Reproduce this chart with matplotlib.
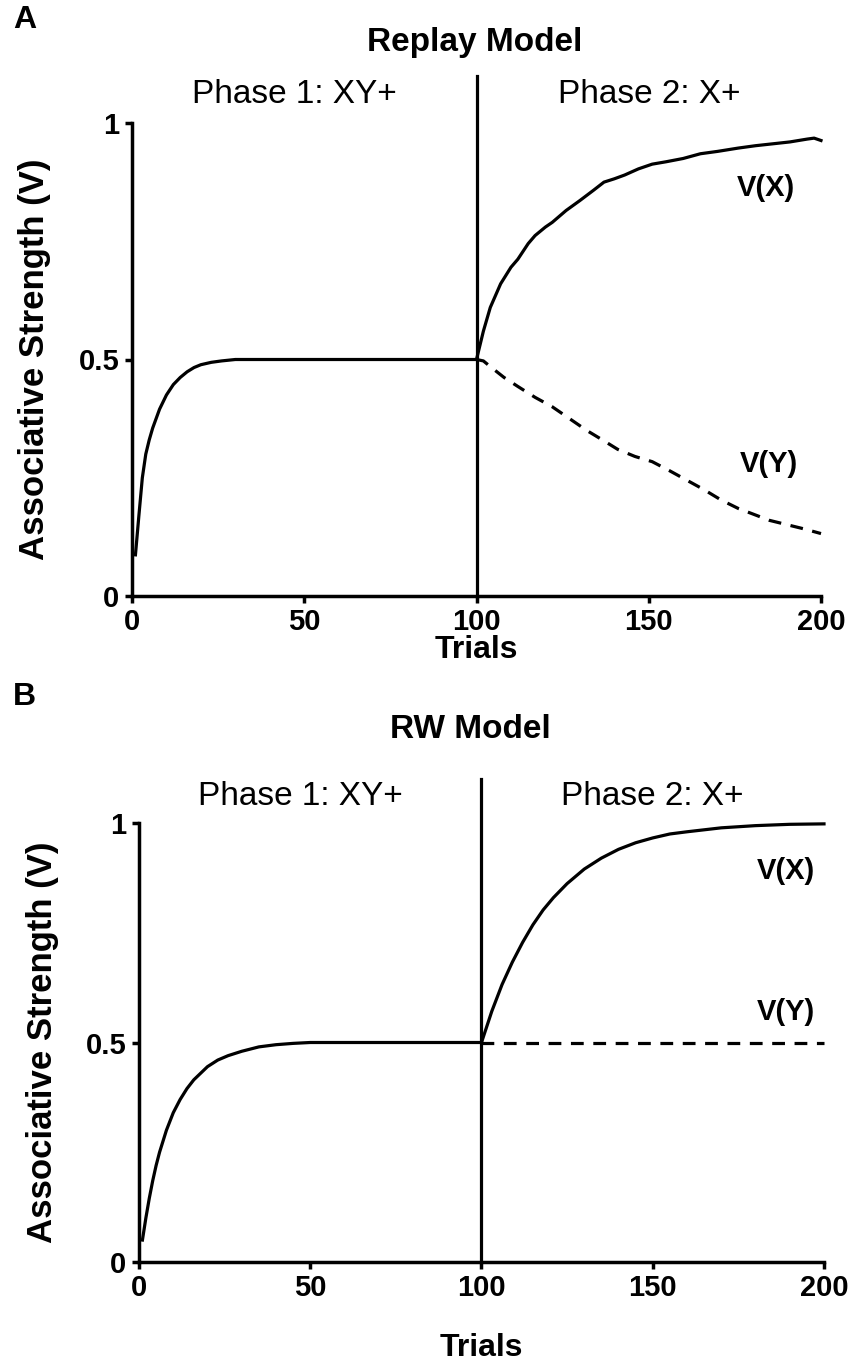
import matplotlib
matplotlib.use("Agg")
import matplotlib.pyplot as plt

plt.rcParams['font.family'] = ['Liberation Sans', 'DejaVu Sans']

# ---------------- data ----------------
phase_boundary = 100
xticks = [0, 50, 100, 150, 200]
yticks = [0, 0.5, 1]
ytick_labels = ["0", "0.5", "1"]

# Panel A: Replay model
rp_p1_trials = [1, 2, 3, 4, 5, 6, 8, 10, 12, 14, 16, 18, 20, 23, 26, 30, 40, 50, 60, 70, 80, 90, 100]
rp_p1_v = [0.087, 0.17, 0.25, 0.30, 0.33, 0.355, 0.395, 0.425, 0.447, 0.462, 0.474, 0.483, 0.489,
           0.494, 0.497, 0.5, 0.5, 0.5, 0.5, 0.5, 0.5, 0.5, 0.5]
rp_x_trials = [100, 102, 104, 107, 110, 112, 115, 117, 120, 122, 126, 130, 134, 137, 140, 143, 147,
               151, 155, 160, 165, 170, 176, 181, 186, 191, 196, 198, 200]
rp_vx = [0.5, 0.56, 0.61, 0.66, 0.695, 0.712, 0.745, 0.762, 0.78, 0.79, 0.815, 0.836, 0.858, 0.875,
         0.882, 0.89, 0.903, 0.913, 0.918, 0.925, 0.935, 0.94, 0.947, 0.952, 0.956, 0.96, 0.966,
         0.968, 0.963]
rp_y_trials = [100, 102, 104, 108, 112, 117, 122, 127, 132, 137, 141, 146, 151, 156, 161, 166, 171,
               176, 180, 185, 190, 195, 200]
rp_vy = [0.5, 0.497, 0.485, 0.462, 0.443, 0.42, 0.40, 0.375, 0.35, 0.328, 0.31, 0.295, 0.284,
         0.265, 0.245, 0.225, 0.203, 0.185, 0.174, 0.16, 0.151, 0.142, 0.132]

# Panel B: RW model
rw_p1_trials = [1, 2, 3, 4, 5, 6, 8, 10, 12, 14, 16, 18, 20, 23, 26, 30, 35, 40, 45, 50, 100]
rw_p1_v = [0.05, 0.10, 0.145, 0.185, 0.22, 0.25, 0.30, 0.34, 0.37, 0.395, 0.415, 0.43, 0.445,
           0.46, 0.47, 0.48, 0.49, 0.495, 0.498, 0.5, 0.5]
rw_x_trials = [100, 103, 106, 109, 112, 115, 118, 121, 125, 130, 135, 140, 145, 150, 155, 160, 170,
               180, 190, 200]
rw_vx = [0.5, 0.571, 0.632, 0.683, 0.728, 0.768, 0.802, 0.83, 0.862, 0.895, 0.92, 0.94, 0.955,
         0.966, 0.975, 0.98, 0.989, 0.994, 0.997, 0.998]
rw_y_trials = [100, 200]
rw_vy = [0.5, 0.5]

panels = [
    dict(letter="A", title="Replay Model",
         p1=(rp_p1_trials, rp_p1_v), vx=(rp_x_trials, rp_vx), vy=(rp_y_trials, rp_vy),
         lab_x=(184, 0.862), lab_y=(185, 0.28), xlab_px=650),
    dict(letter="B", title="RW Model",
         p1=(rw_p1_trials, rw_p1_v), vx=(rw_x_trials, rw_vx), vy=(rw_y_trials, rw_vy),
         lab_x=(189, 0.89), lab_y=(189, 0.57), xlab_px=1348),
]

# ---------------- layout ----------------
W, H = 848, 1371
fig = plt.figure(figsize=(W / 100, H / 100), dpi=100)

# axes rectangles in pixels: left, right, y(value 0), y(value 1)
rects = [(132, 821, 596, 123), (139, 824, 1262, 823)]
YTOP = 1.1
LW = 2.3

for p, (l, r, y0, y1) in zip(panels, rects):
    ppu = y0 - y1
    top_px = y0 - YTOP * ppu
    ax = fig.add_axes([l / W, 1 - y0 / H, (r - l) / W, (y0 - top_px) / H])
    ax.set_xlim(0, 200)
    ax.set_ylim(0, YTOP)
    for s in ("top", "right"):
        ax.spines[s].set_visible(False)
    ax.spines["left"].set_bounds(0, 1)
    ax.spines["left"].set_linewidth(2.5)
    ax.spines["bottom"].set_linewidth(2.5)
    ax.set_xticks(xticks)
    ax.set_yticks(yticks)
    ax.set_yticklabels(ytick_labels)
    ax.tick_params(direction="out", length=5, width=2.5, labelsize=21, pad=4)
    for t in ax.get_xticklabels() + ax.get_yticklabels():
        t.set_fontweight("bold")
    ax.set_ylabel("Associative Strength (V)", fontsize=25, fontweight="bold")
    ax.yaxis.set_label_coords(-0.117, 0.5 / YTOP)

    ax.plot(*p["p1"], color="black", lw=LW, solid_joinstyle="round", clip_on=False)
    ax.plot(*p["vx"], color="black", lw=LW, clip_on=False)
    ax.plot(*p["vy"], color="black", lw=LW, dashes=(4, 3), clip_on=False)
    ax.plot([phase_boundary, phase_boundary], [0, YTOP], color="black", lw=LW, clip_on=False)

    ax.text(*p["lab_x"], "V(X)", fontsize=21, fontweight="bold", ha="center", va="center")
    ax.text(*p["lab_y"], "V(Y)", fontsize=21, fontweight="bold", ha="center", va="center")
    ax.text(47, 1.06, "Phase 1: XY+", fontsize=24, ha="center", va="center")
    ax.text(150, 1.06, "Phase 2: X+", fontsize=24, ha="center", va="center")

    fig.text((l + r) / 2 / W, 1 - p["xlab_px"] / H, "Trials", fontsize=23, fontweight="bold",
             ha="center", va="center")

# panel letters and titles (figure pixel positions)
fig.text(25 / W, 1 - 20 / H, "A", fontsize=23, fontweight="bold", ha="center", va="center")
fig.text(475 / W, 1 - 42 / H, "Replay Model", fontsize=24, fontweight="bold", ha="center", va="center")
fig.text(24 / W, 1 - 697 / H, "B", fontsize=23, fontweight="bold", ha="center", va="center")
fig.text(470 / W, 1 - 730 / H, "RW Model", fontsize=24, fontweight="bold", ha="center", va="center")

fig.savefig("out.png", dpi=100)
